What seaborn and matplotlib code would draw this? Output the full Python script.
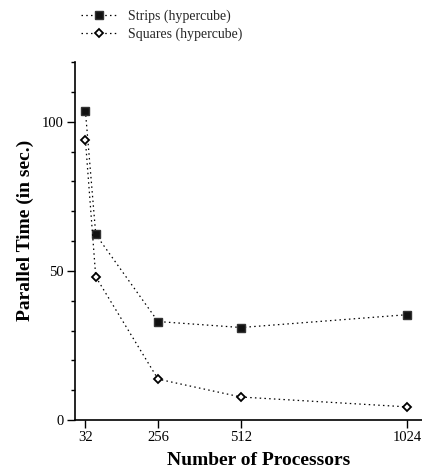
import matplotlib
matplotlib.use("Agg")
import matplotlib.pyplot as plt
import seaborn as sns
import pandas as pd

processors = [32, 64, 256, 512, 1024]
strips = [103.7, 62.2, 33.0, 31.0, 35.3]
squares = [94.0, 48.0, 13.7, 7.7, 4.4]
series_names = ["Strips (hypercube)", "Squares (hypercube)"]
xticks = [32, 256, 512, 1024]
yticks = [0, 50, 100]

sns.set_theme(style="ticks")
plt.rcParams["font.family"] = ["Liberation Serif", "DejaVu Serif"]

fig = plt.figure(figsize=(4.22, 4.72), dpi=100)
ax = fig.add_axes([75 / 422, 52 / 472, 347 / 422, 358 / 472])

df_strips = pd.DataFrame({"x": processors, "y": strips})
df_squares = pd.DataFrame({"x": processors, "y": squares})

dot = (0, (1.2, 2.6))
sns.lineplot(data=df_strips, x="x", y="y", ax=ax, color="black", lw=0.9,
             linestyle=dot, marker="s", markersize=5.8, markerfacecolor="#111111",
             markeredgecolor="#333333", markeredgewidth=1.0, label=series_names[0])
sns.lineplot(data=df_squares, x="x", y="y", ax=ax, color="black", lw=0.9,
             linestyle=dot, marker="D", markersize=4.2, markerfacecolor="white",
             markeredgecolor="black", markeredgewidth=1.3, label=series_names[1])

ax.set_xlim(0, 1070)
ax.set_ylim(0, 120)
ax.set_xticks(xticks)
ax.set_xticklabels([str(t) for t in xticks])
ax.set_yticks(yticks)
ax.set_yticks(range(0, 121, 10), minor=True)
ax.tick_params(axis="both", which="major", labelsize=10.5, length=6, width=1.0,
               color="black", labelcolor="black", pad=2)
ax.tick_params(axis="y", which="minor", length=3, width=1.0, color="black")
ax.tick_params(axis="x", which="minor", length=0)
for s in ["top", "right"]:
    ax.spines[s].set_visible(False)
for s in ["left", "bottom"]:
    ax.spines[s].set_color("black")
    ax.spines[s].set_linewidth(1.2)

ax.set_xlabel("Number of Processors", fontsize=14, fontweight="bold", color="black")
ax.set_ylabel("Parallel Time (in sec.)", fontsize=14, fontweight="bold", color="black")
ax.yaxis.set_label_coords(-0.118, 0.53)
ax.xaxis.set_label_coords(0.53, -0.088)

ax.get_legend().remove()
handles, labels = ax.get_legend_handles_labels()
fig.legend(handles, labels, loc="upper left", bbox_to_anchor=(75 / 422, 1 - 4 / 472),
           frameon=False, fontsize=10, handlelength=2.7, handletextpad=0.7,
           labelspacing=0.35, borderaxespad=0)

fig.savefig("out.png", dpi=100)
